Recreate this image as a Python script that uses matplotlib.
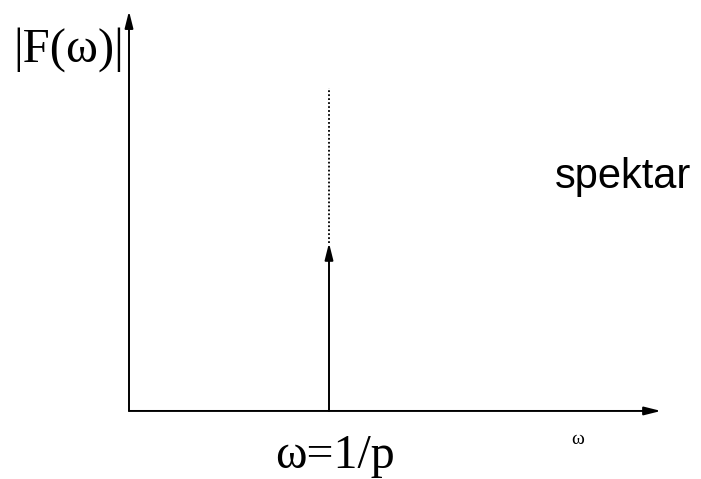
import matplotlib
matplotlib.use('Agg')
import matplotlib.pyplot as plt

# spectrum of a periodic signal: one line at omega = 1/p
spike_omega = [1.0]
spike_amp = [1.0]
dotted_top = [1.92]
axis_x_end = 2.66
axis_y_end = 2.38

fig = plt.figure(figsize=(7.01, 4.79), dpi=100)
ax = fig.add_axes([0, 0, 1, 1])
ax.set_xlim(-0.645, 2.86)
ax.set_ylim(-0.405, 2.446)
ax.axis('off')

arrow = dict(arrowstyle='-|>,head_length=1.0,head_width=0.25', color='black',
             lw=1.4, shrinkA=0, shrinkB=0)

# axes
ax.annotate('', xy=(axis_x_end, 0), xytext=(0, 0), arrowprops=arrow)
ax.annotate('', xy=(0, axis_y_end), xytext=(0, 0), arrowprops=arrow)

# spectral line
for w, a, top in zip(spike_omega, spike_amp, dotted_top):
    ax.plot([w, w], [a, top], color='black', lw=1.3, ls=(0, (1, 1.2)))
    ax.annotate('', xy=(w, a), xytext=(w, 0), arrowprops=arrow)

serif = ['Liberation Serif', 'DejaVu Serif']
ax.text(-0.025, 2.15, '|F(ω)|', family=serif, fontsize=35, ha='right', va='center')
ax.text(spike_omega[0] + 0.03, -0.27, 'ω=1/p', family=serif, fontsize=34.5, ha='center', va='center')
ax.text(2.245, -0.17, 'ω', family=serif, fontsize=14, ha='center', va='center')
ax.text(2.81, 1.39, 'spektar', family=['Liberation Sans', 'DejaVu Sans'],
        fontsize=30, ha='right', va='center')

fig.savefig('out.png', dpi=100)
